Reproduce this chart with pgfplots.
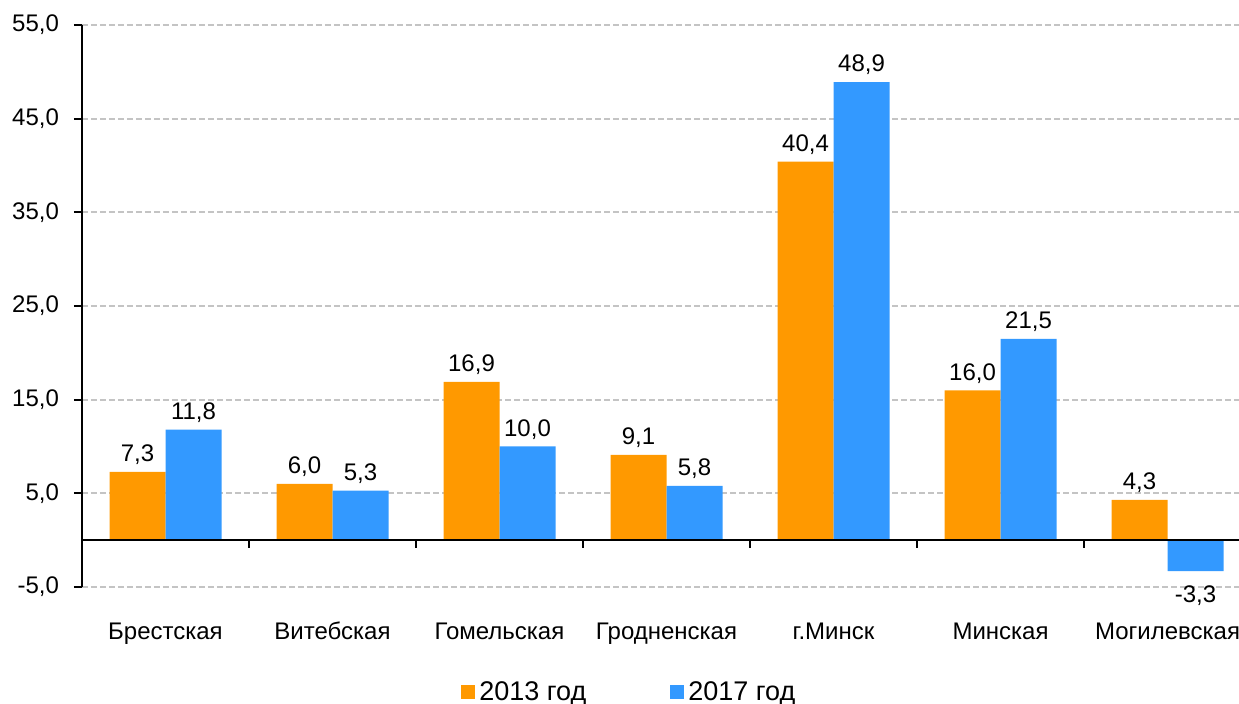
\documentclass[border=0pt]{standalone}
\usepackage{pgfplots}
\pgfplotsset{compat=1.18}
\usepackage{fontspec}
\setmainfont{Liberation Sans}
\definecolor{c13}{HTML}{FF9900}
\definecolor{c17}{HTML}{3399FF}
\definecolor{gridc}{HTML}{C4C4C4}
\begin{document}
\begin{tikzpicture}
\useasboundingbox (-41pt,-58.5pt) rectangle (578.5pt,293.5pt);
\begin{axis}[
  at={(0pt,0pt)}, anchor=south west,
  scale only axis, width=578.5pt, height=281pt,
  xmin=-0.5, xmax=6.428, ymin=-5, ymax=55,
  ybar=0pt, bar width=28pt,
  axis y line*=left, axis x line*=bottom,
  x axis line style={draw=none},
  y axis line style={line width=1pt, -},
  xtick={0,1,2,3,4,5,6},
  xticklabels={Брестская,Витебская,Гомельская,Гродненская,г.Минск,Минская,Могилевская},
  x tick style={draw=none},
  xticklabel style={yshift=-9.5pt, text height=9pt, text depth=2.5pt, font=\fontsize{12}{14}\selectfont},
  ytick={-5,5,15,25,35,45,55},
  y tick style={line width=1pt, black},
  tick align=outside, major tick length=4pt,
  yticklabel style={font=\fontsize{12}{14}\selectfont, xshift=-4pt},
  ymajorgrids, grid style={gridc, line width=1pt, dash pattern=on 3pt off 1.5pt},
  /pgf/number format/.cd, fixed, fixed zerofill, precision=1, use comma, assume math mode=true,
  /pgfplots/.cd,
  nodes near coords,
  every node near coord/.append style={font=\fontsize{12}{14}\selectfont, black, text height=12pt},
  legend style={at={(axis description cs:0.474,-0.187)}, anchor=center, draw=none,
    font=\fontsize{13.5}{16}\selectfont,
    /tikz/every even column/.append style={column sep=40pt}},
  legend columns=2,
  legend image code/.code={\fill[#1] (0pt,-3.5pt) rectangle (7pt,3.5pt);},
]
\addplot[fill=c13, draw=none] coordinates {(0,7.3) (1,6.0) (2,16.9) (3,9.1) (4,40.4) (5,16.0) (6,4.3)};
\addplot[fill=c17, draw=none] coordinates {(0,11.8) (1,5.3) (2,10.0) (3,5.8) (4,48.9) (5,21.5) (6,-3.3)};
\legend{2013 год, 2017 год}
\draw[black, line width=1pt] (axis cs:-0.5,0) -- (axis cs:6.428,0);
\pgfplotsinvokeforeach{0.5,1.5,2.5,3.5,4.5,5.5}{\draw[black, line width=1pt] (axis cs:#1,0) -- ++(0pt,-4pt);}
\end{axis}
\end{tikzpicture}
\end{document}
